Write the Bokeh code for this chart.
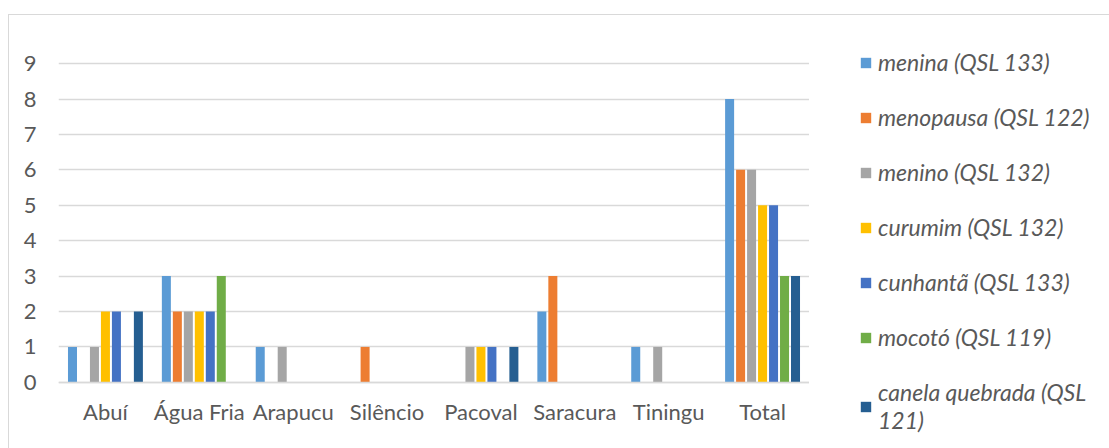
from bokeh.plotting import figure
from bokeh.models import ColumnDataSource, FactorRange, Legend, LegendItem
from bokeh.layouts import row
from bokeh.transform import dodge
from bokeh.embed import file_html
from bokeh.resources import INLINE

categories = ["Abuí", "Água Fria", "Arapucu", "Silêncio", "Pacoval", "Saracura", "Tiningu", "Total"]
series_names = ["menina (QSL 133)", "menopausa (QSL 122)", "menino (QSL 132)", "curumim (QSL 132)",
                "cunhantã (QSL 133)", "mocotó (QSL 119)", "canela quebrada (QSL\n121)"]
menina = [1, 3, 1, 0, 0, 2, 1, 8]
menopausa = [0, 2, 0, 1, 0, 3, 0, 6]
menino = [1, 2, 1, 0, 1, 0, 1, 6]
curumim = [2, 2, 0, 0, 1, 0, 0, 5]
cunhanta = [2, 2, 0, 0, 1, 0, 0, 5]
mocoto = [0, 3, 0, 0, 0, 0, 0, 3]
canela = [2, 0, 0, 0, 1, 0, 0, 3]
colors = ["#5B9BD5", "#ED7D31", "#A5A5A5", "#FFC000", "#4472C4", "#70AD47", "#255E91"]
y_ticks = [0, 1, 2, 3, 4, 5, 6, 7, 8, 9]

series = [menina, menopausa, menino, curumim, cunhanta, mocoto, canela]
keys = ["s%d" % i for i in range(7)]
data = {"cat": categories}
for k, s in zip(keys, series):
    data[k] = s
src = ColumnDataSource(data)

FONT = "Lato"
TXT = "#595959"
GRID = "#d9d9d9"

# axis 0..9 spans 318 px; frame extended above/below so the legend panel is not clipped
PX = 318 / 9.0
y_lo = -67 / PX
y_hi = 9 + 48 / PX

p = figure(x_range=FactorRange(*categories), y_range=(y_lo, y_hi), width=800, height=434,
           output_backend="svg", toolbar_location=None,
           min_border_left=49, min_border_top=0, min_border_right=0, min_border_bottom=0)
p.outline_line_color = None

slot = 0.117
for i, (k, c) in enumerate(zip(keys, colors)):
    p.vbar(x=dodge("cat", (i - 3) * slot, range=p.x_range), top=k, width=0.096,
           source=src, fill_color=c, line_color=None)

p.xgrid.grid_line_color = None
p.ygrid.grid_line_color = GRID
p.ygrid.grid_line_width = 1.3
p.yaxis.ticker = y_ticks
p.yaxis.axis_line_color = None
p.yaxis.major_tick_line_color = None
p.yaxis.minor_tick_line_color = None
p.yaxis.major_label_standoff = 16
p.xaxis.fixed_location = 0
p.xaxis.axis_line_color = GRID
p.xaxis.axis_line_width = 1.3
p.xaxis.major_tick_line_color = None
p.xaxis.minor_tick_line_color = None
p.xaxis.major_label_standoff = 10
for ax in (p.xaxis[0], p.yaxis[0]):
    ax.major_label_text_font = FONT
    ax.major_label_text_font_size = "22px"
    ax.major_label_text_color = TXT

# legend panel (separate figure so the legend sits outside the plot area)
lf = figure(x_range=FactorRange("legend"), y_range=(0, 1), width=301, height=434,
            output_backend="svg", toolbar_location=None,
            min_border_left=0, min_border_top=0, min_border_right=0, min_border_bottom=0)
lf.axis.visible = False
lf.grid.visible = False
lf.outline_line_color = None
items = []
for i, (k, name, c) in enumerate(zip(keys, series_names, colors)):
    r = lf.vbar(x=dodge("cat", (i - 3) * slot, range=lf.x_range), top=k, width=0.096,
                source=src, fill_color=c, line_color=None)
    items.append(LegendItem(label=name, renderers=[r]))

legend = Legend(items=items, location=(50, 15), orientation="vertical")
legend.padding = 0
legend.margin = 0
legend.border_line_color = None
legend.background_fill_alpha = 0
legend.glyph_width = 13
legend.glyph_height = 13
legend.label_height = 20
legend.label_standoff = 6
legend.spacing = 27
legend.label_text_font = FONT
legend.label_text_font_style = "italic"
legend.label_text_font_size = "23px"
legend.label_text_color = TXT
lf.add_layout(legend, "center")

layout = row(p, lf)
layout.margin = (14, 0, 0, 8)
layout.styles = {"border-top": "1px solid #d9d9d9", "border-left": "1px solid #d9d9d9"}

open("out.html", "w").write(file_html(layout, INLINE))
